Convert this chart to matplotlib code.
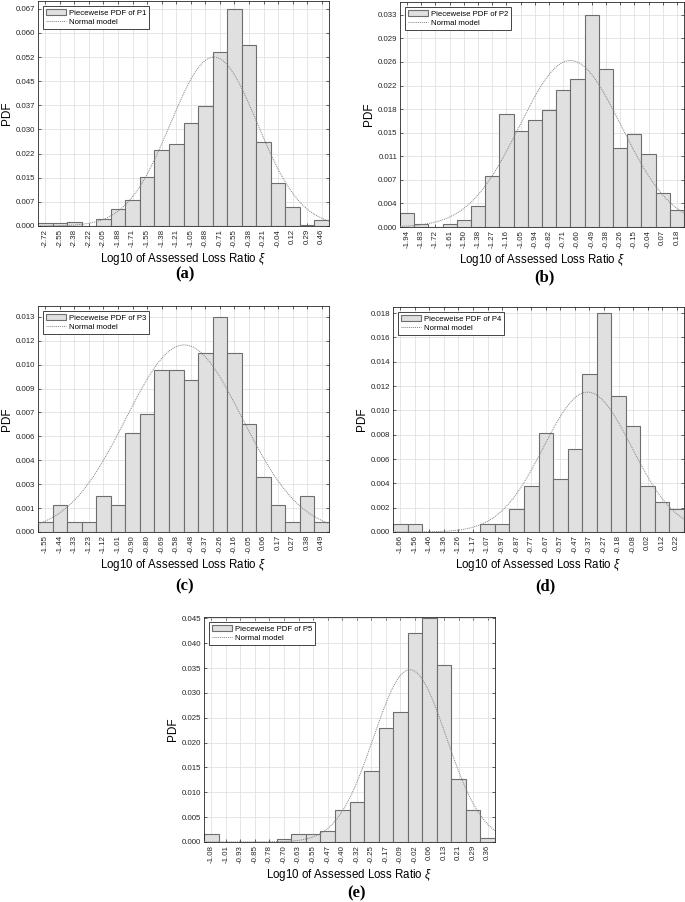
import numpy as np
import matplotlib
matplotlib.use("Agg")
import matplotlib.pyplot as plt

plt.rcParams['font.family'] = ['Liberation Sans', 'DejaVu Sans']
plt.rcParams['mathtext.fontset'] = 'custom'
plt.rcParams['mathtext.it'] = 'Liberation Sans:italic'
plt.rcParams['mathtext.rm'] = 'Liberation Sans'

# bin centres (tick labels) and bar heights
centers_a = [-2.72, -2.55, -2.38, -2.22, -2.05, -1.88, -1.71, -1.55, -1.38, -1.21,
             -1.05, -0.88, -0.71, -0.55, -0.38, -0.21, -0.04, 0.12, 0.29, 0.46]
pdf_a = [0.0009, 0.0009, 0.0013, 0.0, 0.0023, 0.0051, 0.0079, 0.0152, 0.0233, 0.0252,
         0.0319, 0.0370, 0.0536, 0.0670, 0.0557, 0.0258, 0.0134, 0.0059, 0.0004, 0.0017]

centers_b = [-1.94, -1.83, -1.72, -1.61, -1.50, -1.38, -1.27, -1.16, -1.05, -0.94,
             -0.82, -0.71, -0.60, -0.49, -0.38, -0.26, -0.15, -0.04, 0.07, 0.18]
pdf_b = [0.0022, 0.0005, 0.0, 0.0005, 0.0011, 0.0033, 0.0080, 0.0176, 0.0150, 0.0166,
         0.0182, 0.0213, 0.0230, 0.0330, 0.0246, 0.0123, 0.0144, 0.0113, 0.0053, 0.0027]

centers_c = [-1.55, -1.44, -1.33, -1.23, -1.12, -1.01, -0.90, -0.80, -0.69, -0.58,
             -0.48, -0.37, -0.26, -0.16, -0.05, 0.06, 0.17, 0.27, 0.38, 0.49]
pdf_c = [0.00058, 0.00165, 0.00058, 0.00058, 0.0022, 0.00165, 0.0060, 0.0071, 0.0098, 0.0098,
         0.0092, 0.0108, 0.0130, 0.0108, 0.0065, 0.0033, 0.00165, 0.00058, 0.0022, 0.00058]

centers_d = [-1.66, -1.56, -1.46, -1.36, -1.26, -1.17, -1.07, -0.97, -0.87, -0.77,
             -0.67, -0.57, -0.47, -0.37, -0.27, -0.18, -0.08, 0.02, 0.12, 0.22]
pdf_d = [0.00066, 0.00066, 0.0, 0.0, 0.0, 0.0, 0.00066, 0.00066, 0.0019, 0.00375,
         0.0081, 0.00436, 0.00685, 0.0130, 0.0180, 0.0112, 0.0087, 0.00375, 0.0025, 0.00186]

centers_e = [-1.08, -1.01, -0.93, -0.85, -0.78, -0.70, -0.63, -0.55, -0.47, -0.40,
             -0.32, -0.25, -0.17, -0.09, -0.02, 0.06, 0.13, 0.21, 0.29, 0.36]
pdf_e = [0.00155, 0.0, 0.0, 0.0, 0.0, 0.00068, 0.00155, 0.00155, 0.0023, 0.0064,
         0.0080, 0.0143, 0.0230, 0.0262, 0.0421, 0.0450, 0.0357, 0.0127, 0.0064, 0.00074]

# normal model: mean, std, peak height
normal_a = (-0.78, 0.50, 0.0521)
normal_b = (-0.657, 0.40, 0.0259)
normal_c = (-0.525, 0.43, 0.0113)
normal_d = (-0.386, 0.30, 0.0115)
normal_e = (-0.045, 0.19, 0.0347)

names = ['P1', 'P2', 'P3', 'P4', 'P5']
letters = ['(a)', '(b)', '(c)', '(d)', '(e)']
ytops = [0.0694, 0.0350, 0.01365, 0.0185, 0.0453]

panels = [(centers_a, pdf_a, normal_a), (centers_b, pdf_b, normal_b),
          (centers_c, pdf_c, normal_c), (centers_d, pdf_d, normal_d),
          (centers_e, pdf_e, normal_e)]

# axes boxes in pixels: left, top, right, bottom ; letter position
W, H = 685, 902
boxes = [(38, 1, 329, 226), (400, 2, 684, 227), (38, 306, 329, 532),
         (393, 307, 684, 532), (204, 617, 495, 842)]
letter_pos = [(185, 274), (544, 277), (185, 586), (545, 586), (356, 893)]

fig = plt.figure(figsize=(W / 100, H / 100), dpi=100)

for i, (cen, pdf, (mu, sd, pk)) in enumerate(panels):
    l, t, r, b = boxes[i]
    ax = fig.add_axes([l / W, 1 - b / H, (r - l) / W, (b - t) / H])
    x = np.linspace(cen[0], cen[-1], len(cen))
    w = x[1] - x[0]
    bars = ax.bar(x, pdf, width=w, color='#e0e0e0', edgecolor='#6e6e6e', linewidth=0.8,
                  label='Pieceweise PDF of ' + names[i], zorder=2)
    xs = np.linspace(x[0] - w / 2, x[-1] + w / 2, 300)
    line, = ax.plot(xs, pk * np.exp(-(xs - mu) ** 2 / (2 * sd ** 2)), ls=(0, (1, 1)),
                    color='#808080', lw=0.7, label='Normal model', zorder=3)
    ax.set_xlim(x[0] - w / 2, x[-1] + w / 2)
    ax.set_ylim(0, ytops[i])
    ax.set_xticks(x)
    ax.set_xticklabels([f'{v:.2f}' for v in cen], rotation=90, fontsize=5.7)
    yt = np.linspace(0, max(pdf), 10)
    ax.set_yticks(yt)
    ax.set_yticklabels([f'{v:.3f}' for v in yt], fontsize=5.7)
    ax.tick_params(direction='in', length=2.5, width=0.5, top=True, right=True,
                   pad=2, colors='#262626')
    ax.grid(True, color='#dcdcdc', lw=0.5, zorder=0)
    ax.set_axisbelow(True)
    for s in ax.spines.values():
        s.set_linewidth(0.6)
        s.set_color('#262626')
    ax.set_xlabel(r'Log10 of Assessed Loss Ratio $\xi$', fontsize=8.3, labelpad=3)
    ax.set_ylabel('PDF', fontsize=8.5, labelpad=2)
    leg = ax.legend([bars, line], ['Pieceweise PDF of ' + names[i], 'Normal model'],
                    loc='upper left', fontsize=5.6, frameon=True, fancybox=False,
                    edgecolor='#262626', framealpha=1, handlelength=2.6,
                    handleheight=0.8, handletextpad=0.3, borderpad=0.35,
                    labelspacing=0.2, borderaxespad=0.7)
    leg.get_frame().set_linewidth(0.6)
    lx, ly = letter_pos[i]
    fig.text(lx / W, 1 - ly / H, letters[i], ha='center', va='center',
             fontsize=12, fontweight='bold', family='Liberation Serif')

fig.savefig('out.png', dpi=100)
